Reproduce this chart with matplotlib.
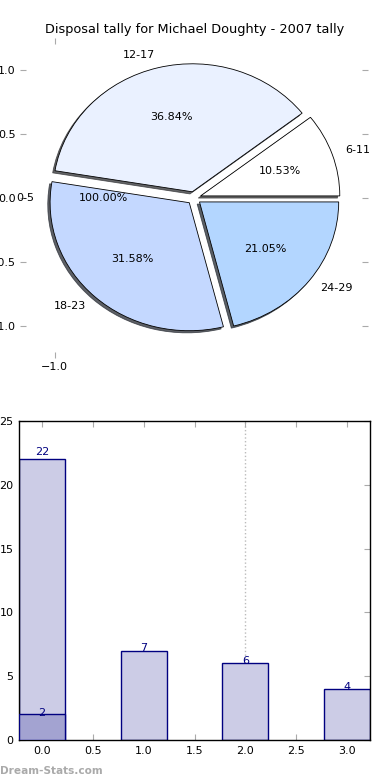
import matplotlib
matplotlib.use('Agg')
import matplotlib.pyplot as plt

title = "Disposal tally for Michael Doughty - 2007 tally"
age_groups = ['0-5', '6-11', '12-17', '18-23', '24-29']
pie_counts = [0, 2, 7, 6, 4]
pie_colors = ['#ffffff', '#ffffff', '#eaf1ff', '#c4d8ff', '#b3d6ff']
zero_pct_text = '100.00%'

bar_x = [0, 1, 2, 3]
bar_totals = [22, 7, 6, 4]
overlay_x = [0]
overlay_values = [2]

pie_yticks = [-1.0, -0.5, 0.0, 0.5, 1.0]
pie_xticks = [-1.0]
bar_xticks = [0.0, 0.5, 1.0, 1.5, 2.0, 2.5, 3.0]
bar_yticks = [0, 5, 10, 15, 20, 25]

plt.rcParams['font.family'] = ['DejaVu Sans']

fig = plt.figure(figsize=(3.9, 7.8), dpi=100)
fig.text(0.5, 1 - 30 / 780, title, ha='center', va='center', fontsize=9.3)

# ---- Pie ----
ax1 = fig.add_axes([20 / 390, 1 - 358 / 780, 348 / 390, 320 / 780])
nz = [i for i, v in enumerate(pie_counts) if v > 0]
vals = [pie_counts[i] for i in nz]
labs = [age_groups[i] for i in nz]
cols = [pie_colors[i] for i in nz]
wedges, texts, autotexts = ax1.pie(
    vals, explode=[0.05] * len(vals), labels=labs, colors=cols,
    autopct='%.2f%%',
    shadow=dict(ox=-0.012, oy=-0.012, shade=0.8, alpha=0.75),
    startangle=0, labeldistance=1.1,
    pctdistance=0.6, wedgeprops=dict(edgecolor='black', linewidth=0.6),
    textprops=dict(fontsize=8))
for i, v in enumerate(pie_counts):
    if v == 0:
        ax1.text(-1.15, 0, age_groups[i], ha='right', va='center', fontsize=8)
        ax1.text(-0.65, 0, zero_pct_text, ha='center', va='center', fontsize=8)
ax1.set_aspect('auto')
ax1.set_xlim(-1.25, 1.25)
ax1.set_ylim(-1.25, 1.25)
ax1.set_frame_on(False)
ax1.set_xticks(pie_xticks)
ax1.set_yticks(pie_yticks)
ax1.set_xticklabels(['\u22121.0'])
ax1.set_yticklabels(['\u22121.0', '\u22120.5', '0.0', '0.5', '1.0'])
ax1.tick_params(direction='in', length=4, color='#aaaaaa', labelsize=8,
                top=True, right=True, pad=3)

# ---- Bars ----
ax2 = fig.add_axes([19 / 390, 40 / 780, 351 / 390, 319 / 780])
ax2.axvline(2.0, ls=':', color='#bbbbbb', lw=1, zorder=0)
ax2.bar(bar_x, bar_totals, width=0.45, color='#cccce6', edgecolor='#000080',
        linewidth=1, zorder=2)
ax2.bar(overlay_x, overlay_values, width=0.45, color='#a3a3d1',
        edgecolor='#000080', linewidth=1, zorder=3)
for x, v in zip(bar_x, bar_totals):
    ax2.text(x, 1.02 * v + 0.1, str(v), ha='center', va='center',
             color='#000080', fontsize=8, zorder=4)
for x, v in zip(overlay_x, overlay_values):
    ax2.text(x, 1.02 * v + 0.1, str(v), ha='center', va='center',
             color='#000080', fontsize=8, zorder=4)
ax2.set_xlim(-0.225, 3.225)
ax2.set_ylim(0, 25)
ax2.set_xticks(bar_xticks)
ax2.set_yticks(bar_yticks)
ax2.tick_params(direction='in', length=4, color='#aaaaaa', labelsize=8,
                top=True, right=True, pad=4)
for s in ax2.spines.values():
    s.set_linewidth(1)

fig.text(0.0, 1 - 771 / 780, 'Dream-Stats.com', ha='left', va='center',
         fontsize=7.6, color='#aaaaaa', weight='bold')

fig.savefig('out.png', dpi=100)
